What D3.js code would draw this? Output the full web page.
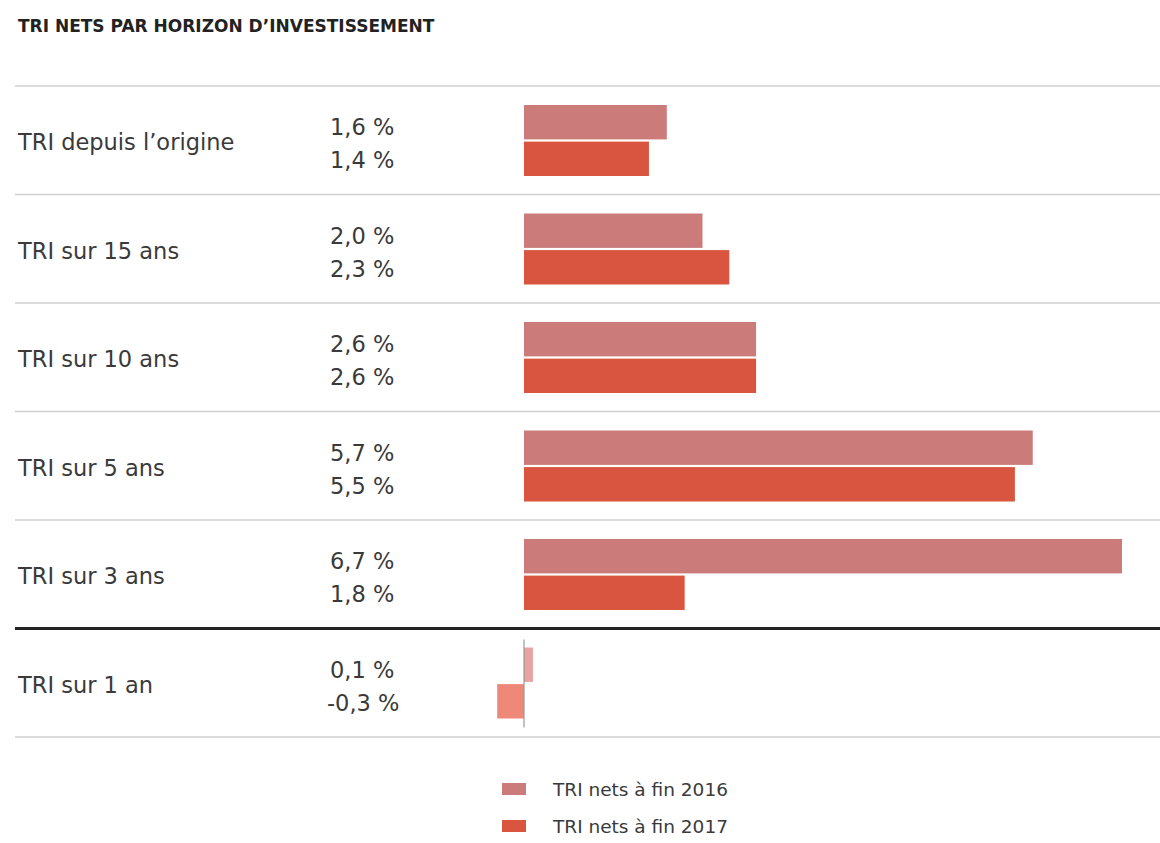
<!DOCTYPE html>
<html>
<head>
<meta charset="utf-8">
<script src="https://cdn.jsdelivr.net/npm/d3@7/dist/d3.min.js"></script>
<style>
  html, body { margin: 0; padding: 0; background: #fff; }
  svg { display: block; }
  text { font-family: "DejaVu Sans", sans-serif; }
</style>
</head>
<body>
<svg id="chart" width="1160" height="843"></svg>
<script>
// Horizons and net IRR values (in %) at end of 2016 and end of 2017
const categories = [
  "TRI depuis l\u2019origine",
  "TRI sur 15 ans",
  "TRI sur 10 ans",
  "TRI sur 5 ans",
  "TRI sur 3 ans",
  "TRI sur 1 an"
];
const values2016 = [1.6, 2.0, 2.6, 5.7, 6.7, 0.1];
const values2017 = [1.4, 2.3, 2.6, 5.5, 1.8, -0.3];
const seriesNames = ["TRI nets \u00e0 fin 2016", "TRI nets \u00e0 fin 2017"];
const title = "TRI NETS PAR HORIZON D\u2019INVESTISSEMENT";

const colors = ["#cc7b7b", "#d9553f"];
const colorsShort = ["#e9a3a3", "#ee8878"]; // lighter tint for the 1-year row

const fmt = v => d3.format(".1f")(v).replace(".", ",").replace("\u2212", "-") + " %";

const svg = d3.select("#chart");

const x = d3.scaleLinear().domain([0, 6.7]).range([524, 1122]);
const y = d3.scaleBand().domain(categories).range([86, 737]).paddingInner(0).paddingOuter(0);
const sub = d3.scaleBand().domain([0, 1]).range([19, 90]).paddingInner(0.06);
const labelOffset = [41, 74];

// title
svg.append("text")
  .attr("x", 18).attr("y", 32)
  .attr("font-size", 17).attr("font-weight", "bold")
  .attr("fill", "#222")
  .text(title);

// row separators
const bounds = categories.map(c => y(c)).concat([y.range()[1]]);
svg.selectAll("line.sep").data(bounds).join("line")
  .attr("class", "sep")
  .attr("x1", 15).attr("x2", 1160)
  .attr("y1", d => d).attr("y2", d => d)
  .attr("stroke", (d, i) => i === 5 ? "#222" : "#cfcfcf")
  .attr("stroke-width", (d, i) => i === 5 ? 3 : 1.5);

const rows = svg.selectAll("g.row").data(categories).join("g")
  .attr("class", "row")
  .attr("transform", c => `translate(0,${y(c)})`);

// category labels
rows.append("text")
  .attr("x", 18).attr("y", 56)
  .attr("dominant-baseline", "central")
  .attr("font-size", 22.5).attr("fill", "#3a3a3a")
  .text(c => c);

// value labels and bars
const pairs = categories.map((c, i) => [values2016[i], values2017[i]]);
rows.each(function(c, i) {
  const g = d3.select(this);
  pairs[i].forEach((v, s) => {
    g.append("text")
      .attr("x", v < 0 ? 327 : 330)
      .attr("y", labelOffset[s])
      .attr("dominant-baseline", "central")
      .attr("font-size", 22.5).attr("fill", "#3a3a3a")
      .text(fmt(v));
    g.append("rect")
      .attr("x", Math.min(x(0), x(v)))
      .attr("width", Math.abs(x(v) - x(0)))
      .attr("y", sub(s))
      .attr("height", sub.bandwidth())
      .attr("fill", i === 5 ? colorsShort[s] : colors[s]);
  });
});

// zero reference in the 1-year row
svg.append("line")
  .attr("x1", x(0)).attr("x2", x(0))
  .attr("y1", y(categories[5]) + 11).attr("y2", y(categories[5]) + 99)
  .attr("stroke", "#999").attr("stroke-width", 1.2);

// legend
const legend = svg.selectAll("g.legend").data(seriesNames).join("g")
  .attr("class", "legend")
  .attr("transform", (d, i) => `translate(502,${783 + i * 37})`);
legend.append("rect").attr("width", 24).attr("height", 12)
  .attr("fill", (d, i) => colors[i]);
legend.append("text").attr("x", 51).attr("y", 6)
  .attr("dominant-baseline", "central")
  .attr("font-size", 18.5).attr("fill", "#3a3a3a")
  .text(d => d);
</script>
</body>
</html>
